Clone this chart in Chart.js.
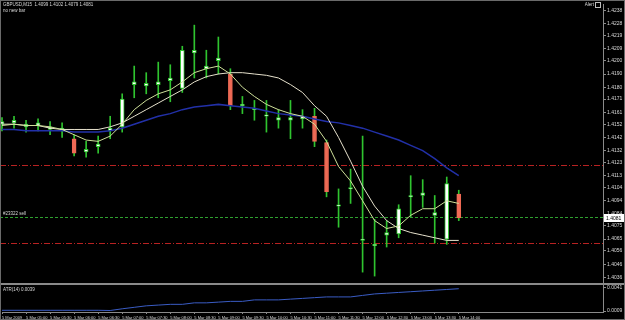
<!DOCTYPE html>
<html>
<head>
<meta charset="utf-8">
<script src="https://cdn.jsdelivr.net/npm/chart.js@4"></script>
<style>
  html, body { margin: 0; padding: 0; background: #000; }
  #wrap { width: 625px; height: 320px; position: relative; }
</style>
</head>
<body>
<div id="wrap"><canvas id="chart" width="625" height="320"></canvas></div>
<script>
// GBPUSD M15, one label every two bars
const symbolName = "GBPUSD,M15";
const timeLabels = ["5 Mar 2009", "5 Mar 05:00", "5 Mar 05:30", "5 Mar 06:00", "5 Mar 06:30", "5 Mar 07:00",
  "5 Mar 07:30", "5 Mar 08:00", "5 Mar 08:30", "5 Mar 09:00", "5 Mar 09:30", "5 Mar 10:00", "5 Mar 10:30",
  "5 Mar 11:00", "5 Mar 11:30", "5 Mar 12:00", "5 Mar 12:30", "5 Mar 13:00", "5 Mar 13:30", "5 Mar 14:00"];

const opens = [1.4152, 1.4153, 1.4150, 1.4151, 1.4148, 1.4147, 1.4141, 1.4131, 1.4135, 1.4147,
  1.4150, 1.4182, 1.4181, 1.4182, 1.4185, 1.4179, 1.4206, 1.4194, 1.4200, 1.4190,
  1.4166, 1.4163, 1.4158, 1.4155, 1.4155, 1.4156, 1.4158, 1.4138, 1.4090, 1.4103,
  1.4064, 1.4060, 1.4068, 1.4069, 1.4097, 1.4098, 1.4083, 1.4065, 1.4099];
const highs = [1.4157, 1.4158, 1.4155, 1.4156, 1.4154, 1.4153, 1.4144, 1.4139, 1.4143, 1.4158,
  1.4175, 1.4196, 1.4191, 1.4199, 1.4197, 1.4211, 1.4227, 1.4208, 1.4218, 1.4194,
  1.4173, 1.4170, 1.4170, 1.4163, 1.4170, 1.4163, 1.4164, 1.4140, 1.4103, 1.4118,
  1.4143, 1.4080, 1.4079, 1.4091, 1.4113, 1.4110, 1.4098, 1.4112, 1.4102];
const lows = [1.4147, 1.4149, 1.4146, 1.4147, 1.4144, 1.4142, 1.4128, 1.4127, 1.4130, 1.4141,
  1.4146, 1.4172, 1.4175, 1.4172, 1.4169, 1.4176, 1.4187, 1.4187, 1.4190, 1.4163,
  1.4160, 1.4155, 1.4146, 1.4149, 1.4141, 1.4149, 1.4135, 1.4097, 1.4074, 1.4092,
  1.4040, 1.4037, 1.4059, 1.4066, 1.4082, 1.4089, 1.4062, 1.4061, 1.4079];
const closes = [1.4154, 1.4155, 1.4152, 1.4153, 1.4150, 1.4149, 1.4130, 1.4133, 1.4137, 1.4149,
  1.4171, 1.4184, 1.4183, 1.4184, 1.4187, 1.4208, 1.4208, 1.4196, 1.4202, 1.4166,
  1.4167, 1.4164, 1.4159, 1.4157, 1.4157, 1.4158, 1.4139, 1.4101, 1.4091, 1.4104,
  1.4065, 1.4061, 1.4070, 1.4088, 1.4098, 1.4100, 1.4085, 1.4107, 1.4081];

const maFast = [1.4151, 1.4152, 1.4151, 1.4151, 1.4150, 1.4148, 1.4144, 1.4140, 1.4139, 1.4143,
  1.4152, 1.4163, 1.4170, 1.4175, 1.4178, 1.4184, 1.4191, 1.4194, 1.4196, 1.4190,
  1.4180, 1.4173, 1.4167, 1.4163, 1.4160, 1.4158, 1.4152, 1.4139, 1.4120, 1.4109,
  1.4094, 1.4079, 1.4073, 1.4075, 1.4083, 1.4088, 1.4088, 1.4094, 1.4092];
const maMid = [1.4152, 1.4152, 1.4151, 1.4151, 1.4149, 1.4148, 1.4148, 1.4148, 1.4148, 1.4150,
  1.4153, 1.4158, 1.4163, 1.4168, 1.4173, 1.4178, 1.4184, 1.4188, 1.4190, 1.4191,
  1.4191, 1.4190, 1.4189, 1.4187, 1.4182, 1.4176, 1.4166, 1.4158, 1.4142, 1.4124,
  1.4105, 1.4090, 1.4079, 1.4073, 1.4070, 1.4068, 1.4066, 1.4064, 1.4064];
const maSlow = [1.4148, 1.4148, 1.4147, 1.4147, 1.4147, 1.4147, 1.4146, 1.4146, 1.4146, 1.4147,
  1.4149, 1.4152, 1.4155, 1.4158, 1.4160, 1.4163, 1.4165, 1.4166, 1.4167, 1.4166,
  1.4165, 1.4164, 1.4162, 1.4160, 1.4159, 1.4158, 1.4156, 1.4154, 1.4153, 1.4151,
  1.4149, 1.4146, 1.4143, 1.4140, 1.4136, 1.4132, 1.4126, 1.4119, 1.4113];

const atrValues = [0.0010, 0.0010, 0.0010, 0.0010, 0.0010, 0.0010, 0.0010, 0.0010, 0.0010, 0.00097,
  0.0012, 0.0014, 0.0016, 0.0017, 0.0018, 0.0018, 0.0020, 0.0020, 0.0021, 0.0022,
  0.0022, 0.0024, 0.0024, 0.0024, 0.0025, 0.0026, 0.0027, 0.0028, 0.0028, 0.0028,
  0.0030, 0.0032, 0.0033, 0.0034, 0.0035, 0.0036, 0.0037, 0.0038, 0.0039];

const priceTicks = [1.4238, 1.4228, 1.4219, 1.4209, 1.4200, 1.4190, 1.4180, 1.4171, 1.4161, 1.4152,
  1.4142, 1.4132, 1.4123, 1.4113, 1.4104, 1.4094, 1.4084, 1.4075, 1.4065, 1.4056, 1.4046, 1.4036];
const atrTicks = [0.0041, 0.0009];

const levelLines = [1.4121, 1.4062];
const orderPrice = 1.4082;
const orderText = "#23322 sell";
const emptySlots = 12; // chart shift on the right

const GREEN = "#2fc42f";
const AXIS = "#8a8a8a";
const TEXT = "#d8d8d8";

const nBars = opens.length;
const categories = [];
for (let i = 0; i < nBars + emptySlots; i++) {
  categories.push(i < nBars && i % 2 === 0 ? timeLabels[i / 2] : "");
}

const wickData = highs.map((h, i) => [lows[i], h]);
const bodyData = opens.map((o, i) => [o, closes[i]]);
const bodyFill = opens.map((o, i) => closes[i] >= o ? "#ffffff" : "#ef6a55");
const bodyEdge = opens.map((o, i) => closes[i] >= o ? GREEN : "#ef6a55");

Chart.defaults.font.family = "'Liberation Sans', Arial, sans-serif";
Chart.defaults.color = TEXT;

const overlay = {
  id: "overlay",
  beforeDatasetsDraw(chart) {
    const { ctx, chartArea, scales } = chart;
    const y = scales.y;
    ctx.save();
    ctx.lineWidth = 1;
    ctx.strokeStyle = "#b82222";
    ctx.setLineDash([6, 2, 1, 2]);
    levelLines.forEach(v => {
      const py = Math.round(y.getPixelForValue(v)) + 0.5;
      ctx.beginPath();
      ctx.moveTo(0, py);
      ctx.lineTo(chartArea.right, py);
      ctx.stroke();
    });
    ctx.strokeStyle = "#2ea02e";
    ctx.setLineDash([3, 2]);
    const oy = Math.round(y.getPixelForValue(orderPrice)) + 0.5;
    ctx.beginPath();
    ctx.moveTo(0, oy);
    ctx.lineTo(chartArea.right, oy);
    ctx.stroke();
    ctx.setLineDash([]);
    ctx.fillStyle = TEXT;
    ctx.font = "4.5px 'Liberation Sans'";
    ctx.textBaseline = "bottom";
    ctx.fillText(orderText, 3, oy - 1.5);
    ctx.restore();
  },
  afterDraw(chart) {
    const { ctx, chartArea, scales } = chart;
    const y = scales.y;
    const ya = scales.yAtr;
    ctx.save();
    ctx.fillStyle = TEXT;
    ctx.textBaseline = "top";
    ctx.font = "4.5px 'Liberation Sans'";
    const last = nBars - 1;
    ctx.fillText(symbolName + "  " + [opens[last], highs[last], lows[last], closes[last]].map(v => v.toFixed(4)).join(" "), 3, 3);
    ctx.fillText("no new bar", 3, 9);
    ctx.fillText("ATR(14) " + atrValues[last].toFixed(4), 3, ya.top + 3);

    // alert button
    ctx.textAlign = "right";
    ctx.fillText("Alert", chartArea.right - 9, 3);
    ctx.strokeStyle = "#bdbdbd";
    ctx.strokeRect(chartArea.right - 7.5, 2.5, 5, 5);
    ctx.textAlign = "left";

    // separator between main window and indicator window
    ctx.strokeStyle = AXIS;
    ctx.lineWidth = 2;
    ctx.beginPath();
    ctx.moveTo(0, Math.round(ya.top));
    ctx.lineTo(625, Math.round(ya.top));
    ctx.stroke();

    // current price box
    const py = Math.round(y.getPixelForValue(closes[last]));
    ctx.fillStyle = "#ffffff";
    ctx.fillRect(chartArea.right + 1, py - 4, 21, 8);
    ctx.fillStyle = "#000000";
    ctx.font = "5px 'Liberation Sans'";
    ctx.textBaseline = "middle";
    ctx.fillText(closes[last].toFixed(4), chartArea.right + 3, py + 0.5);

    // window frame
    ctx.strokeStyle = "#6a6a6a";
    ctx.lineWidth = 1;
    ctx.strokeRect(0.5, 0.5, 624, 319);
    ctx.restore();
  }
};

const lineSet = (data, color, width) => ({
  type: "line",
  data: data,
  borderColor: color,
  borderWidth: width,
  pointRadius: 0,
  tension: 0,
  yAxisID: "y",
  clip: false
});

new Chart(document.getElementById("chart"), {
  type: "bar",
  data: {
    labels: categories,
    datasets: [
      lineSet(maFast, "#cfe09a", 1),
      lineSet(maMid, "#e6e1cc", 1),
      lineSet(maSlow, "#2230a8", 1.5),
      {
        data: bodyData,
        backgroundColor: bodyFill,
        borderColor: bodyEdge,
        borderWidth: 1,
        borderSkipped: false,
        barThickness: 4,
        grouped: false,
        yAxisID: "y",
        clip: false
      },
      {
        data: wickData,
        backgroundColor: GREEN,
        borderWidth: 0,
        barThickness: 1,
        grouped: false,
        yAxisID: "y",
        clip: false
      },
      {
        type: "line",
        data: atrValues,
        borderColor: "#3a5cc4",
        borderWidth: 1,
        pointRadius: 0,
        tension: 0,
        yAxisID: "yAtr"
      }
    ]
  },
  options: {
    responsive: false,
    animation: false,
    devicePixelRatio: 1,
    layout: { padding: { left: 2, top: 1, right: 0, bottom: 0 } },
    plugins: { legend: { display: false }, tooltip: { enabled: false } },
    scales: {
      x: {
        type: "category",
        offset: false,
        grid: {
          display: true,
          drawOnChartArea: false,
          offset: false,
          tickLength: 2,
          color: c => (c.index < nBars && c.index % 2 === 0) ? AXIS : "rgba(0,0,0,0)"
        },
        border: { color: AXIS },
        ticks: {
          autoSkip: false,
          maxRotation: 0,
          minRotation: 0,
          align: "start",
          padding: 1,
          font: { size: 4 },
          color: TEXT
        },
        afterFit: s => { s.height = 8; }
      },
      y: {
        position: "right",
        stack: "win",
        stackWeight: 283,
        min: 1.40308,
        max: 1.4243,
        grid: { display: true, drawOnChartArea: false, tickLength: 3, color: AXIS },
        border: { color: AXIS },
        afterBuildTicks: s => { s.ticks = priceTicks.map(v => ({ value: v })); },
        ticks: {
          autoSkip: false,
          padding: 1,
          font: { size: 5 },
          color: TEXT,
          callback: v => Number(v).toFixed(4)
        },
        afterFit: s => { s.width = 22; }
      },
      yAtr: {
        position: "right",
        stack: "win",
        stackWeight: 28,
        min: 0.00077,
        max: 0.0045,
        grid: { display: true, drawOnChartArea: false, tickLength: 3, color: AXIS },
        border: { color: AXIS },
        afterBuildTicks: s => { s.ticks = atrTicks.map(v => ({ value: v })); },
        ticks: {
          autoSkip: false,
          padding: 1,
          font: { size: 5 },
          color: TEXT,
          callback: v => Number(v).toFixed(4)
        },
        afterFit: s => { s.width = 22; }
      }
    }
  },
  plugins: [overlay]
});
</script>
</body>
</html>
